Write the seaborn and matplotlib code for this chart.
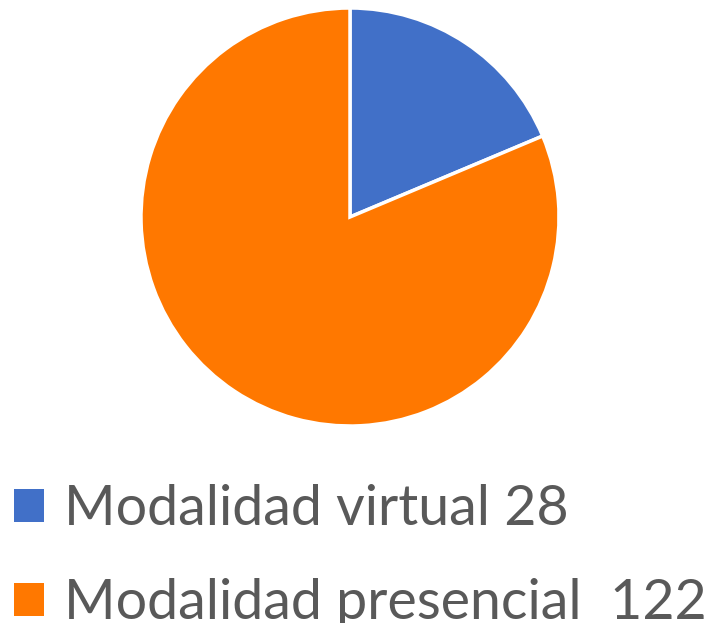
import matplotlib
matplotlib.use("Agg")
import matplotlib.pyplot as plt
import seaborn as sns
from matplotlib.patches import Patch

# ── Data
labels = ["Modalidad virtual 28", "Modalidad presencial  122"]
values = [28, 122]
colors = ["#4170C8", "#FF7800"]

sns.set_theme(style="white")
plt.rcParams["font.family"] = ["Lato", "DejaVu Sans"]

W, H = 709, 623
fig = plt.figure(figsize=(W / 100, H / 100), dpi=100)

# ── Pie (centre ~ (350,217), radius ~208 px)
ax = fig.add_axes([141 / W, (H - 426) / H, 418 / W, 418 / H])
ax.pie(values, colors=colors, startangle=90, counterclock=False,
       wedgeprops=dict(edgecolor="white", linewidth=2.5))
ax.set_xlim(-1, 1); ax.set_ylim(-1, 1)
ax.set_aspect("equal")
ax.axis("off")

# ── Legend
handles = [Patch(facecolor=c, edgecolor="none") for c in colors]
fig.legend(handles, labels, loc="upper left", bbox_to_anchor=(14 / W, 1 - 484 / H),
           frameon=False, fontsize=40, labelcolor="#595959",
           handlelength=0.54, handleheight=0.52, handletextpad=0.36,
           labelspacing=0.78, borderaxespad=0, borderpad=0)

fig.savefig("out.png", dpi=100)
